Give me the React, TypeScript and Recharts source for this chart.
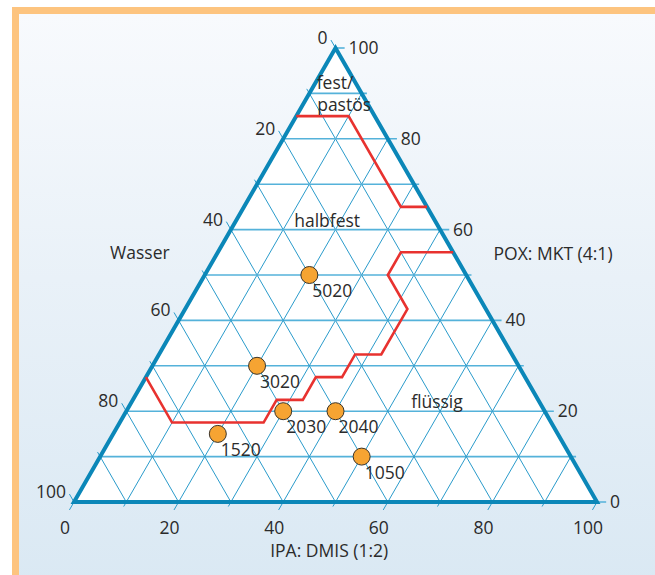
import React from 'react';
import { ComposedChart, XAxis, YAxis, Scatter, Area } from 'recharts';

// Sample compositions: POX and IPA shares in %, Wasser is the remainder
const samplePox = [50, 30, 20, 20, 15, 10];
const sampleIpa = [20, 20, 30, 40, 20, 50];

// Phase boundary fest/pastös | halbfest, vertices as POX / IPA
const upperBoundaryPox = [85, 85, 65, 65];
const upperBoundaryIpa = [0, 10, 30, 35];

// Phase boundary halbfest | flüssig
const lowerBoundaryPox = [55, 55, 50, 42.5, 32.5, 32.5, 27.5, 27.5, 22.5, 22.5, 17.5, 17.5, 27.5];
const lowerBoundaryIpa = [45, 35, 35, 42.5, 42.5, 37.5, 37.5, 32.5, 32.5, 27.5, 27.5, 10, 0];

// Axis tick labels (every 20 %) and grid steps (every 10 %)
const tickValues = [0, 20, 40, 60, 80, 100];
const gridValues = [0, 10, 20, 30, 40, 50, 60, 70, 80, 90, 100];

const axisTitleWasser = 'Wasser';
const axisTitlePox = 'POX: MKT (4:1)';
const axisTitleIpa = 'IPA: DMIS (1:2)';

// Region names with anchor as [POX, IPA]
const regionNames = ['fest/', 'pastös', 'halbfest', 'flüssig'];
const regionPox = [91, 86.1, 60.6, 20.7];
const regionIpa = [0.9, 3.45, 18.1, 59.05];

// ---- layout ----
const W = 655;
const H = 575;
const TRI = { left: 74, right: 597, top: 48, bottom: 502 };
const ux = (TRI.right - TRI.left) / 100;
const uy = (TRI.bottom - TRI.top) / 100;
const xDomain = [-TRI.left / ux, (W - TRI.left) / ux];
const yDomain = [(TRI.bottom - H) / uy, TRI.bottom / uy];

const FONT = "'Open Sans', 'Noto Sans', sans-serif";
const FONT_SIZE = 17.5;
const TEXT = '#2b2b2b';
const FRAME_BLUE = '#0b87b8';
const GRID_DIAG = '#2a9bcb';
const GRID_HORIZ = '#55b2da';
const RED = '#e8322f';

// ternary (POX, IPA) -> cartesian chart units
const toXY = (pox: number, ipa: number) => ({ x: ipa + pox / 2, y: pox });

const tickLen = (v: number) => (v % 20 === 0 ? 1.75 : 1.0);

type Seg = { pts: { x: number; y: number }[]; horiz: boolean };
const gridSegments: Seg[] = [];
gridValues.forEach((k) => {
  const t = tickLen(k);
  // constant POX: left edge to right edge, tick to the right
  gridSegments.push({
    pts: [toXY(k, 0), { x: 100 - k / 2 + t, y: k }],
    horiz: true,
  });
  // constant Wasser (w = k): bottom edge to left edge, tick up-left
  gridSegments.push({
    pts: [toXY(0, 100 - k), toXY(100 - k + t, -t)],
    horiz: false,
  });
  // constant IPA (i = k): right edge to bottom edge, tick down-left
  gridSegments.push({
    pts: [toXY(100 - k, k), toXY(-t, k)],
    horiz: false,
  });
});

const triangleFill = [toXY(0, 0), toXY(100, 0), toXY(0, 100)];
const triangleOutline = [toXY(0, 0), toXY(0, 100), toXY(100, 0), toXY(0, 0), toXY(0, 100)];

const upperLine = upperBoundaryPox.map((p, idx) => toXY(p, upperBoundaryIpa[idx]));
const lowerLine = lowerBoundaryPox.map((p, idx) => toXY(p, lowerBoundaryIpa[idx]));

const samples = samplePox.map((p, idx) => ({
  ...toXY(p, sampleIpa[idx]),
  label: `${p}${sampleIpa[idx]}`,
}));

const poxTicks = tickValues.map((v) => ({ ...toXY(v, 100 - v), label: String(v) }));
const wasserTicks = tickValues.map((v) => ({ ...toXY(100 - v, 0), label: String(v) }));
const ipaTicks = tickValues.map((v) => ({ ...toXY(0, v), label: String(v) }));

const regions = regionNames.map((n, idx) => ({ ...toXY(regionPox[idx], regionIpa[idx]), label: n }));

const titles = [
  { x: 12.6, y: 53.5, label: axisTitleWasser },
  { x: 91.6, y: 53.3, label: axisTitlePox },
  { x: 48.8, y: -12.2, label: axisTitleIpa },
];

const noShape = () => <g />;

const textShape = (dx: number, dy: number, anchor: 'start' | 'middle' | 'end') =>
  (props: any) => (
    <text
      x={props.cx + dx}
      y={props.cy + dy}
      textAnchor={anchor}
      fontFamily={FONT}
      fontSize={FONT_SIZE}
      fill={TEXT}
    >
      {props.payload.label}
    </text>
  );

const regionShape = (props: any) => {
  const anchor = props.payload.label === 'fest/' || props.payload.label === 'pastös' ? 'start' : 'middle';
  return (
    <text x={props.cx} y={props.cy} textAnchor={anchor} fontFamily={FONT} fontSize={FONT_SIZE} fill={TEXT}>
      {props.payload.label}
    </text>
  );
};

const sampleShape = (props: any) => (
  <g>
    <circle cx={props.cx} cy={props.cy} r={8.5} fill="#f6a432" stroke="#3b3328" strokeWidth={1} />
    <text x={props.cx + 3} y={props.cy + 22} fontFamily={FONT} fontSize={FONT_SIZE} fill={TEXT}>
      {props.payload.label}
    </text>
  </g>
);

export default function App() {
  return (
    <div
      style={{
        position: 'absolute',
        left: 0,
        top: 0,
        width: W,
        height: H,
        overflow: 'hidden',
        background: '#ffffff',
      }}
    >
      <div
        style={{
          position: 'absolute',
          left: 12,
          top: 7,
          width: W,
          height: H + 20,
          boxSizing: 'border-box',
          borderLeft: '7px solid #fdc47f',
          borderTop: '7px solid #fdc47f',
          borderRight: '10px solid #fdc47f',
          background: 'linear-gradient(to bottom, #f8fafd 0%, #e9f1f8 45%, #d9e8f3 100%)',
        }}
      />
      <div style={{ position: 'absolute', left: 0, top: 0 }}>
        <ComposedChart
          width={W}
          height={H}
          data={triangleFill}
          margin={{ top: 0, right: 0, bottom: 0, left: 0 }}
        >
          <XAxis dataKey="x" type="number" domain={xDomain} allowDataOverflow hide />
          <YAxis dataKey="y" type="number" domain={yDomain} allowDataOverflow hide />
          <Area
            dataKey="y"
            type="linear"
            fill="#ffffff"
            fillOpacity={1}
            stroke="none"
            isAnimationActive={false}
            dot={false}
            activeDot={false}
          />
          {gridSegments.map((s, idx) => (
            <Scatter
              key={`g${idx}`}
              data={s.pts}
              dataKey="y"
              line={{
                stroke: s.horiz ? GRID_HORIZ : GRID_DIAG,
                strokeWidth: s.horiz ? 1.6 : 1,
              }}
              shape={noShape}
              isAnimationActive={false}
            />
          ))}
          <Scatter
            data={triangleOutline}
            dataKey="y"
            line={{ stroke: FRAME_BLUE, strokeWidth: 4, strokeLinejoin: 'miter' }}
            shape={noShape}
            isAnimationActive={false}
          />
          <Scatter
            data={upperLine}
            dataKey="y"
            line={{ stroke: RED, strokeWidth: 2.6 }}
            shape={noShape}
            isAnimationActive={false}
          />
          <Scatter
            data={lowerLine}
            dataKey="y"
            line={{ stroke: RED, strokeWidth: 2.6 }}
            shape={noShape}
            isAnimationActive={false}
          />
          <Scatter data={samples} dataKey="y" shape={sampleShape} isAnimationActive={false} />
          <Scatter data={poxTicks} dataKey="y" shape={textShape(13, 6, 'start')} isAnimationActive={false} />
          <Scatter data={wasserTicks} dataKey="y" shape={textShape(-8, -4, 'end')} isAnimationActive={false} />
          <Scatter data={ipaTicks} dataKey="y" shape={textShape(-9, 32, 'middle')} isAnimationActive={false} />
          <Scatter data={regions} dataKey="y" shape={regionShape} isAnimationActive={false} />
          <Scatter data={titles} dataKey="y" shape={textShape(0, 0, 'middle')} isAnimationActive={false} />
        </ComposedChart>
      </div>
    </div>
  );
}
